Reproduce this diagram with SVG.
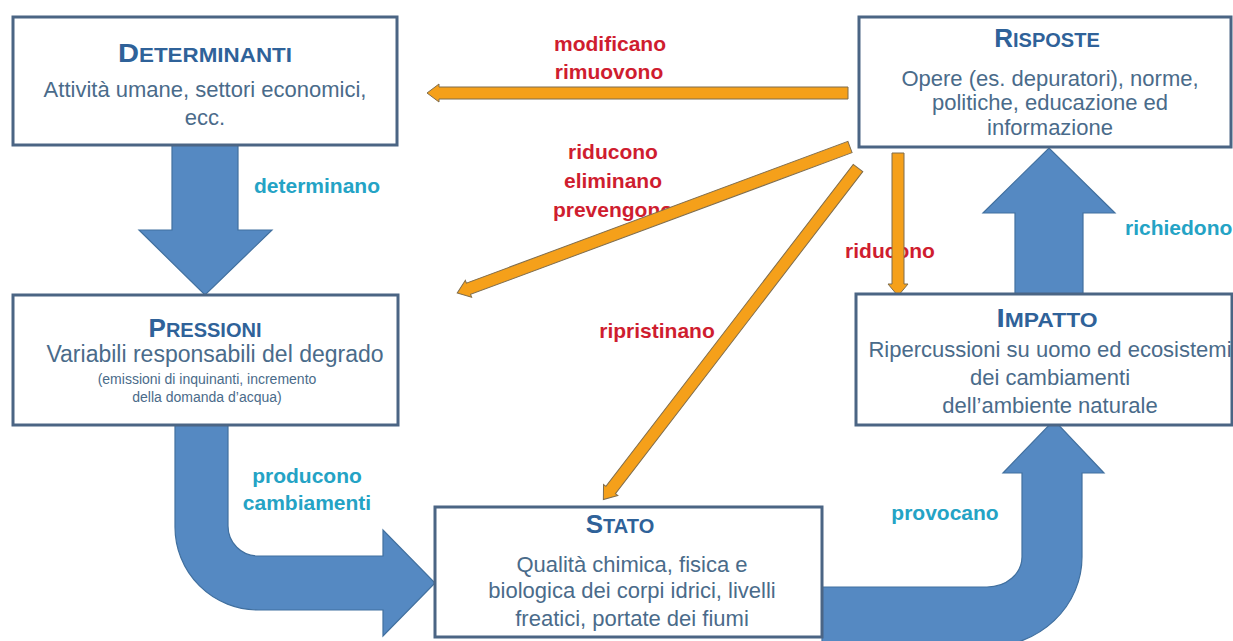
<svg xmlns="http://www.w3.org/2000/svg" width="1233" height="641" viewBox="0 0 1233 641">
<style>
.box{fill:#ffffff;stroke:#4b6584;stroke-width:3}
.title{font-family:"Liberation Sans",Arial,sans-serif;font-weight:bold;fill:#2f6299;text-anchor:middle}
.big{font-size:26px}
.sm{font-size:20px}
.body{font-family:"Liberation Sans",Arial,sans-serif;font-size:22px;fill:#4a6b8a;text-anchor:middle}
.small{font-family:"Liberation Sans",Arial,sans-serif;font-size:14px;fill:#4a6b8a;text-anchor:middle}
.red{font-family:"Liberation Sans",Arial,sans-serif;font-size:21px;font-weight:bold;fill:#cf1d2f;text-anchor:middle}
.cyan{font-family:"Liberation Sans",Arial,sans-serif;font-size:21px;font-weight:bold;fill:#24a3c5;text-anchor:middle}
.blue{fill:#5589c2;stroke:#41709f;stroke-width:1.2}
.orange{fill:#f5a01a;stroke:#7f6d4d;stroke-width:1}
</style>
<rect width="1233" height="641" fill="#ffffff"/>

<g id="connectors">
  <!-- blue block arrows -->
  <polygon class="blue" points="172,145 238,145 238,230 272,230 205,295 139,230 172,230"/>
  <polygon class="blue" points="1015,295 1083,295 1083,213 1115,213 1049,148 983,213 1015,213"/>
  <path class="blue" d="M175 425 L228 425 L228 526 A30 30 0 0 0 258 556 L383 556 L383 530 L435 583 L383 636 L383 610 L258 610 A83 83 0 0 1 175 527 Z"/>
  <path class="blue" d="M822 587 L987 587 A35 30 0 0 0 1022 557 L1022 473 L1003 473 L1054 420 L1104 473 L1082 473 L1082 557 A95 90 0 0 1 987 647 L822 647 Z"/>
  <!-- labels -->
  <text class="cyan" x="317" y="193">determinano</text>
  <text class="cyan" x="1125" y="235" style="text-anchor:start">richiedono</text>
  <text class="cyan" x="307" y="483">producono</text>
  <text class="cyan" x="307" y="510">cambiamenti</text>
  <text class="cyan" x="945" y="520">provocano</text>
  <text class="red" x="610" y="51">modificano</text>
  <text class="red" x="609" y="79">rimuovono</text>
  <text class="red" x="613" y="159">riducono</text>
  <text class="red" x="613" y="188">eliminano</text>
  <text class="red" x="613" y="217">prevengono</text>
  <text class="red" x="657" y="338">ripristinano</text>
  <text class="red" x="890" y="258">riducono</text>
  <!-- orange arrows -->
  <path class="orange" transform="translate(848,93) rotate(180)" d="M0 -6 L409 -6 L409 -9 L421 0 L409 9 L409 6 L0 6 Z"/>
  <path class="orange" transform="translate(850,147) rotate(159.62)" d="M0 -6 L407 -6 L407 -9 L419 0 L407 9 L407 6 L0 6 Z"/>
  <path class="orange" transform="translate(858,168) rotate(127.53)" d="M0 -6 L406 -6 L406 -9 L418 0 L406 9 L406 6 L0 6 Z"/>
  <path class="orange" transform="translate(898,153) rotate(90)" d="M0 -6 L131 -6 L131 -10 L143 0 L131 10 L131 6 L0 6 Z"/>
</g>

<g id="determinanti">
  <rect class="box" x="13" y="17" width="384" height="128"/>
  <text class="title" x="205" y="62" textLength="174" lengthAdjust="spacingAndGlyphs"><tspan class="big">D</tspan><tspan class="sm">ETERMINANTI</tspan></text>
  <text class="body" x="205" y="97">Attività umane, settori economici,</text>
  <text class="body" x="205" y="125">ecc.</text>
</g>

<g id="risposte">
  <rect class="box" x="859" y="17" width="372" height="130"/>
  <text class="title" x="1047" y="47"><tspan class="big">R</tspan><tspan class="sm">ISPOSTE</tspan></text>
  <text class="body" x="1050" y="86">Opere (es. depuratori), norme,</text>
  <text class="body" x="1050" y="110">politiche, educazione ed</text>
  <text class="body" x="1050" y="135">informazione</text>
</g>

<g id="pressioni">
  <rect class="box" x="13" y="295" width="385" height="130"/>
  <text class="title" x="205" y="337"><tspan class="big">P</tspan><tspan class="sm">RESSIONI</tspan></text>
  <text class="body" x="215" y="362" style="font-size:23px">Variabili responsabili del degrado</text>
  <text class="small" x="207" y="384">(emissioni di inquinanti, incremento</text>
  <text class="small" x="207" y="402">della domanda d’acqua)</text>
</g>

<g id="impatto">
  <rect class="box" x="856" y="294" width="376" height="131"/>
  <text class="title" x="1047" y="327" textLength="101" lengthAdjust="spacingAndGlyphs"><tspan class="big">I</tspan><tspan class="sm">MPATTO</tspan></text>
  <text class="body" x="1050" y="357">Ripercussioni su uomo ed ecosistemi</text>
  <text class="body" x="1050" y="385">dei cambiamenti</text>
  <text class="body" x="1050" y="413">dell’ambiente naturale</text>
</g>

<g id="stato">
  <rect class="box" x="435" y="507" width="387" height="130"/>
  <text class="title" x="620" y="533"><tspan class="big">S</tspan><tspan class="sm">TATO</tspan></text>
  <text class="body" x="632" y="572">Qualità chimica, fisica e</text>
  <text class="body" x="632" y="598">biologica dei corpi idrici, livelli</text>
  <text class="body" x="632" y="626">freatici, portate dei fiumi</text>
</g>
</svg>
